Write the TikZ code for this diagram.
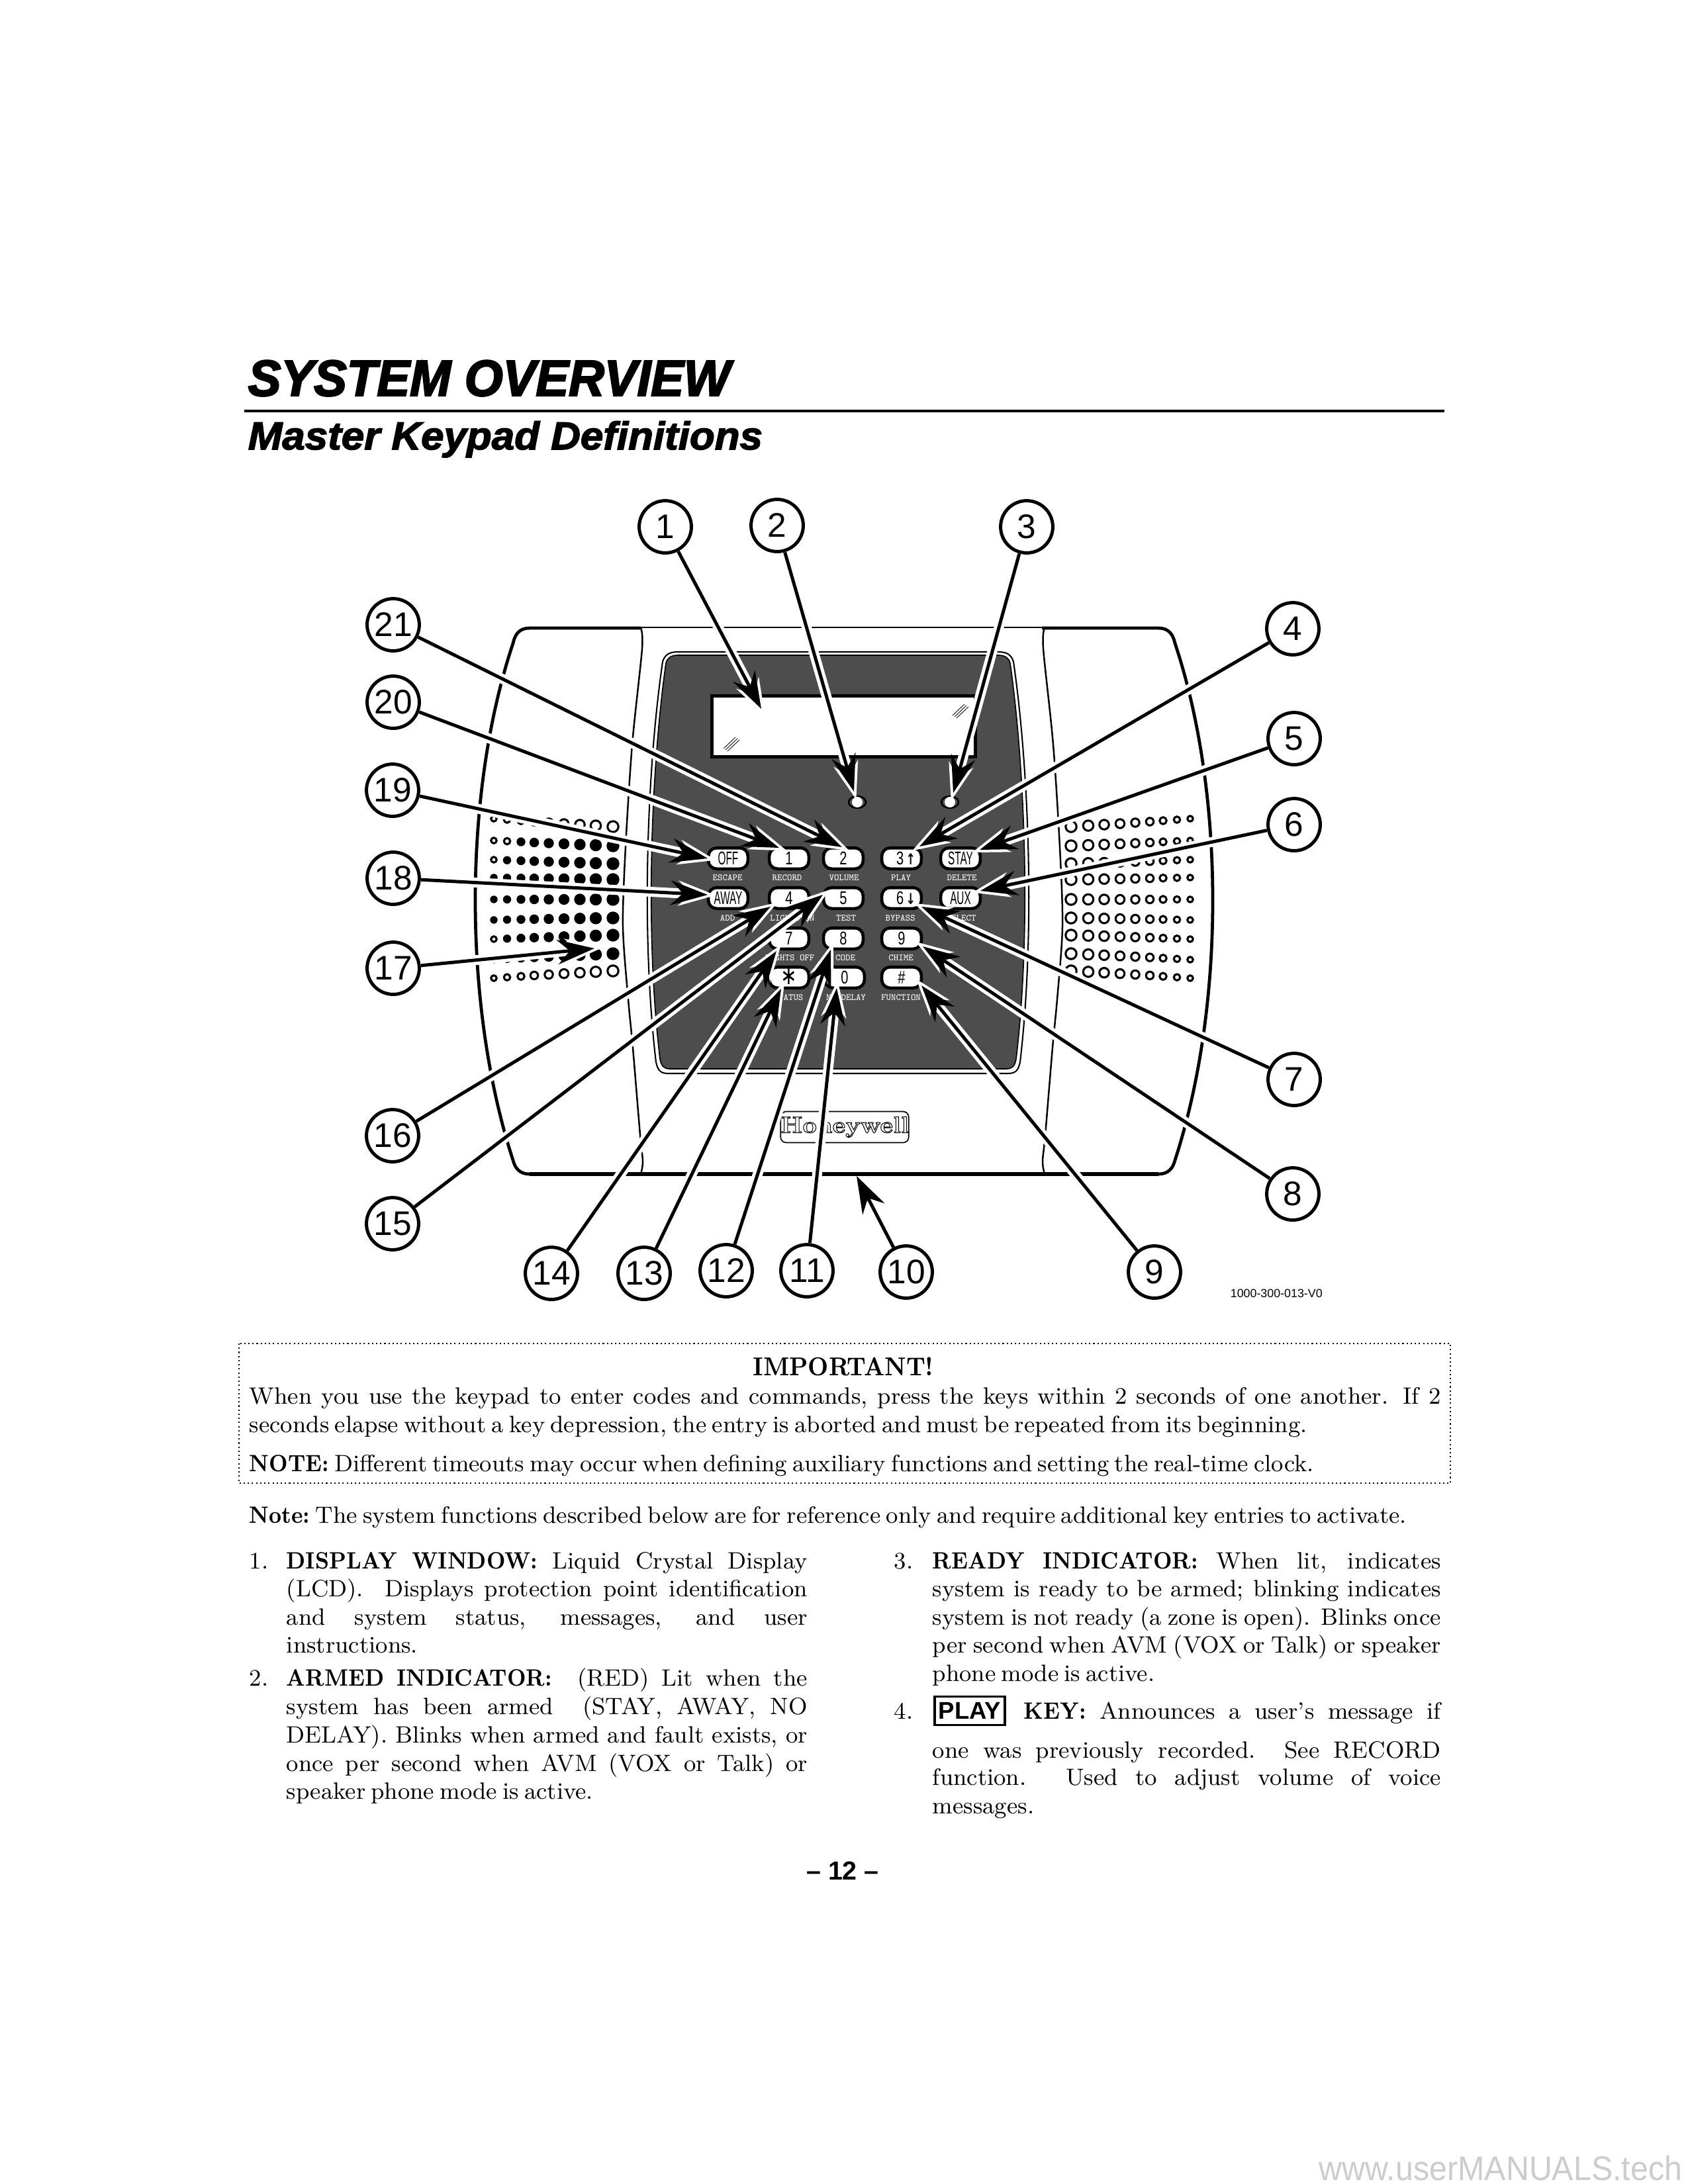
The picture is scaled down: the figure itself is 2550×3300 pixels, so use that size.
\documentclass[tikz,border=0pt]{standalone}
\usepackage{amsmath,amssymb}
\usepackage{graphicx}
\usepackage{fontspec}
\usepackage{tikz}
\usetikzlibrary{arrows.meta}
\newfontfamily\titlefont[BoldItalicFeatures={FakeBold=3,FakeStretch=0.97}]{Liberation Sans}
\newfontfamily\subtitlefont[BoldItalicFeatures={FakeBold=2.5,FakeStretch=1.05}]{Liberation Sans}
\newfontfamily\numfont{Liberation Sans}
\newfontfamily\footfont[FakeStretch=0.94]{Liberation Sans}
\newfontfamily\keyfont[FakeStretch=0.55]{Liberation Sans}
\newfontfamily\digitfont[FakeStretch=0.72]{Liberation Sans}
\newfontfamily\glyphfont[FakeStretch=0.75]{DejaVu Sans}
\newlength\pxu
\setlength\pxu{0.2409pt}
\definecolor{paneldark}{HTML}{4D4D4D}
\tikzset{
	callout/.style={circle,draw,line width=1.2pt,fill=white,minimum size=19pt,inner sep=0pt,font=\numfont\fontsize{12.4}{14}\selectfont},
	halo/.style={white,line width=3.6pt,shorten >=-3pt,-{Stealth[length=13.5pt,width=9pt,inset=4.5pt,line width=3.4pt]}},
	pointer/.style={black,line width=1.2pt,-{Stealth[length=13.5pt,width=9pt,inset=4.5pt]}},
	keybox/.style={draw,line width=1.1pt,fill=white,rounded corners=3pt,minimum width=14.4pt,minimum height=7.6pt,inner sep=0pt,font=\keyfont\fontsize{6.7}{8}\selectfont},
	keylabel/.style={text=white,inner sep=0pt,font=\ttfamily\fontsize{3.4}{4}\selectfont},
	bodytext/.style={anchor=base west,inner sep=0pt,font=\fontsize{8.6}{10.2}\selectfont},
	thinline/.style={line width=0.6pt},
	wingline/.style={line width=1.15pt},
}
\newcommand{\textrow}[5]{\node[bodytext] (#1) at (#2,#3) {\makebox[#4\pxu][s]{#5}};}
\newcommand{\keycap}[4]{\node[keybox] (key#1) at (#2,#3) {#4};}
\newcommand{\hd}[1]{\scalebox{0.9}[1]{\textbf{#1}}}
\begin{document}
\begin{tikzpicture}[x=0.2409pt,y=-0.2409pt]
	\useasboundingbox (0,0) rectangle (2550,3300);
	% headings
	\node[anchor=base west,inner sep=0pt,font=\titlefont\bfseries\itshape\fontsize{18.5}{20}\selectfont] (title) at (374,598) {SYSTEM OVERVIEW};
	\draw[line width=1.1pt] (369,621) -- (2182,621);
	\node[anchor=base west,inner sep=0pt,font=\subtitlefont\bfseries\itshape\fontsize{14.2}{15}\selectfont] (subtitle) at (374,679) {Master Keypad Definitions};
	% keypad body
	\draw[wingline] (968,949) -- (800,949) .. controls (785,949) and (778,958) .. (775,972)
		.. controls (699,1200) and (699,1520) .. (775,1753) .. controls (778,1765) and (785,1774) .. (800,1774);
	\draw[wingline] (1574,949) -- (1750,949) .. controls (1765,949) and (1772,958) .. (1775,972)
		.. controls (1851,1200) and (1851,1520) .. (1775,1753) .. controls (1772,1765) and (1765,1774) .. (1750,1774);
	\draw[line width=1.3pt] (800,1774) -- (1750,1774);
	\draw[thinline] (968,948) -- (1574,948);
	\draw[thinline] plot[smooth] coordinates {(968,949) (970,980) (955,1125) (945,1280) (941,1400) (949,1510) (956,1583) (967,1715) (971,1755) (968,1774)};
	\draw[thinline] plot[smooth] coordinates {(1578,949) (1576,980) (1591,1125) (1601,1280) (1605,1400) (1597,1510) (1590,1583) (1579,1715) (1575,1755) (1578,1774)};
	% panel
	\draw[line width=0.5pt,fill=white] (1024,985) -- (1508,985) .. controls (1522,985) and (1528,990) .. (1531,1000)
		.. controls (1553,1150) and (1565,1400) .. (1541,1605) .. controls (1538,1618) and (1534,1622) .. (1522,1622)
		-- (1010,1622) .. controls (998,1622) and (994,1618) .. (991,1605)
		.. controls (967,1400) and (979,1150) .. (1001,1000) .. controls (1004,990) and (1010,985) .. (1024,985) -- cycle;
	\draw[line width=0.4pt,fill=paneldark] (1024,990) -- (1508,990) .. controls (1518,990) and (1524,994) .. (1526,1002)
		.. controls (1547,1150) and (1559,1400) .. (1535,1600) .. controls (1533,1611) and (1529,1615) .. (1520,1615)
		-- (1012,1615) .. controls (1003,1615) and (999,1611) .. (997,1600)
		.. controls (973,1400) and (985,1150) .. (1006,1002) .. controls (1008,994) and (1014,990) .. (1024,990) -- cycle;
	% display and indicators
	\draw[line width=1.2pt,fill=white] (1075,1051) rectangle (1473,1143);
	\foreach \gx/\gy in {1093/1131,1096/1133,1099/1135,1439/1081,1442/1083,1445/1085} {
		\draw[line width=0.2pt] (\gx,\gy) -- ++(18,-17);
	}
	\foreach \lx in {1295,1435} {
		\draw[line width=0.6pt,fill=paneldark] (\lx,1212) ellipse (13 and 9);
		\fill[white] (\lx,1212) circle (8);
	}
	% speaker holes
	\foreach \r/\fo/\off/\m in {1/-122/-110/10,2/-89/-81/3,3/-60/-54/2,4/-33/-30/1,5/0/0/1,6/31/28/1,7/60/54/2,8/91/82/3,9/119/108/10} {
		\foreach \cc/\xx/\rad in {1/746/4.2,2/766/4.7,3/787/5.2,4/807/5.7,5/829/6.2,6/852/6.7,7/876/7.2,8/900/7.7,9/926/8.2} {
			\pgfmathsetmacro{\yy}{1359+\off+(\fo-\off)*(9-\cc)/8}
			\pgfmathsetmacro{\xr}{2544-\xx}
			\ifnum\cc<\m
				\draw[line width=0.75pt] (\xx,\yy) circle (\rad);
			\else
				\fill (\xx,\yy) circle (\rad+1.5);
			\fi
			\draw[line width=0.75pt] (\xr,\yy) circle (\rad);
		}
	}
	% keys
	\keycap{off}{1100}{1297}{OFF}
	\keycap{one}{1192}{1297}{\digitfont 1}
	\keycap{two}{1274}{1297}{\digitfont 2}
	\keycap{three}{1362}{1297}{\kern13\pxu\digitfont 3\kern0.8pt{\glyphfont\bfseries\fontsize{5.5}{6}\selectfont ↑}}
	\keycap{stay}{1451}{1297}{STAY}
	\keycap{away}{1100}{1357}{AWAY}
	\keycap{four}{1192}{1357}{\digitfont 4}
	\keycap{five}{1274}{1357}{\digitfont 5}
	\keycap{six}{1362}{1357}{\kern13\pxu\digitfont 6\kern0.8pt{\glyphfont\bfseries\fontsize{5.5}{6}\selectfont ↓}}
	\keycap{aux}{1451}{1357}{AUX}
	\keycap{seven}{1192}{1418}{\digitfont 7}
	\keycap{eight}{1274}{1418}{\digitfont 8}
	\keycap{nine}{1362}{1418}{\digitfont 9}
	\keycap{star}{1192}{1477}{\raisebox{0pt}[5pt][0pt]{\glyphfont\fontsize{9.5}{9.5}\selectfont ∗}}
	\keycap{zero}{1276}{1477}{\digitfont 0}
	\keycap{hash}{1362}{1477}{\digitfont\#}
	\foreach \xx/\yy/\lbl [count=\n] in {1099/1326/ESCAPE,1189/1326/RECORD,1275/1326/VOLUME,1361/1326/PLAY,1453/1326/DELETE,
		1099/1387/ADD,1197/1387/LIGHTS ON,1278/1387/TEST,1360/1387/BYPASS,1452/1387/SELECT,
		1193/1447/LIGHTS OFF,1277/1447/CODE,1361/1447/CHIME,
		1191/1507/STATUS,1278/1507/NO DELAY,1361/1507/FUNCTION} {
		\node[keylabel] (lbl\n) at (\xx,\yy) {\lbl};
	}
	% logo
	\node[draw,line width=0.4pt,rounded corners=2pt,minimum width=45pt,minimum height=11.3pt,inner sep=0pt,
		font=\bfseries\fontsize{8.4}{10}\selectfont] (logo) at (1276,1703)
		{\special{pdf:code 1 Tr 0.25 w}Honeywell\special{pdf:code 0 Tr}};
	% callouts
	\foreach \i/\xx/\yy in {1/1005/796,2/1174/794,3/1551/796,4/1953/950,5/1955/1116,6/1955/1246,7/1955/1631,
		8/1953/1804,9/1744/1922,10/1369/1922,11/1219/1920,12/1097/1920,13/973/1924,14/833/1924,
		15/593/1849,16/593/1716,17/594/1463,18/594/1327,19/593/1194,20/594/1061,21/594/944} {
		\node[callout] (c\i) at (\xx,\yy) {\i};
	}
	% arrow tips
	\foreach \i/\xx/\yy in {1/1150/1071,2/1290/1196,3/1440/1198,4/1389/1279,5/1480/1284,6/1481/1346,7/1392/1370,
		8/1394/1430,9/1392/1489,10/1294/1777,11/1264/1493,12/1255/1435,13/1180/1494,14/1173/1437,
		15/1243/1352,16/1164/1370,17/898/1433,18/1069/1352,19/1069/1297,20/1177/1281,21/1272/1280} {
		\coordinate (t\i) at (\xx,\yy);
	}
	\foreach \i in {1,2,3,4,5,6,7,8,9,11,12,13,14,15,16,17,18,19,20,21} {
		\draw[halo] (c\i) -- (t\i);
	}
	\foreach \i in {1,...,21} {
		\draw[pointer] (c\i) -- (t\i);
	}
	\node[anchor=base west,inner sep=0pt,font=\numfont\fontsize{4.3}{5}\selectfont] (partno) at (1858,1960) {1000-300-013-V0};
	% important box
	\draw[densely dotted,line width=0.5pt] (361,2030) rectangle (2191,2241);
	\node[anchor=base,inner sep=0pt,font=\fontsize{9.4}{11}\selectfont] (important) at (1274,2078) {\hd{IMPORTANT!}};
	\textrow{boxa}{376}{2121}{1800}{When you use the keypad to enter codes and commands, press the keys within 2 seconds of one another. If 2}
	\textrow{boxb}{376}{2164}{1598}{seconds elapse without a key depression, the entry is aborted and must be repeated from its beginning.}
	\textrow{boxc}{376}{2223}{1603}{\hd{NOTE:} Different timeouts may occur when defining auxiliary functions and setting the real-time clock.}
	\textrow{notea}{376}{2301}{1748}{\hd{Note:} The system functions described below are for reference only and require additional key entries to activate.}
	% left column
	\node[bodytext] (numa) at (376,2370) {1.};
	\textrow{cola}{432}{2370}{787}{\hd{DISPLAY} \hd{WINDOW:} Liquid Crystal Display}
	\textrow{colb}{432}{2412}{787}{(LCD).\ \ Displays protection point identification}
	\textrow{colc}{432}{2455}{787}{and system status, messages, and user}
	\textrow{cold}{432}{2497}{194}{instructions.}
	\node[bodytext] (numb) at (376,2547) {2.};
	\textrow{cole}{432}{2547}{787}{\hd{ARMED} \hd{INDICATOR:}\ \ (RED) Lit when the}
	\textrow{colf}{432}{2590}{787}{system has been armed\ \ (STAY, AWAY, NO}
	\textrow{colg}{432}{2633}{787}{DELAY). Blinks when armed and fault exists, or}
	\textrow{colh}{432}{2676}{787}{once per second when AVM (VOX or Talk) or}
	\textrow{coli}{432}{2718}{462}{speaker phone mode is active.}
	% right column
	\node[bodytext] (numc) at (1350,2370) {3.};
	\textrow{colj}{1408}{2370}{768}{\hd{READY} \hd{INDICATOR:} When lit, indicates}
	\textrow{colk}{1408}{2412}{768}{system is ready to be armed; blinking indicates}
	\textrow{coll}{1408}{2455}{768}{system is not ready (a zone is open). Blinks once}
	\textrow{colm}{1408}{2497}{768}{per second when AVM (VOX or Talk) or speaker}
	\textrow{coln}{1408}{2540}{332}{phone mode is active.}
	\node[bodytext] (numd) at (1350,2597) {4.};
	\node[draw,line width=0.9pt,minimum width=25.5pt,minimum height=10.4pt,inner sep=0pt,font=\numfont\bfseries\fontsize{8.8}{10}\selectfont] (playkey) at (1465,2585) {PLAY};
	\textrow{colo}{1546}{2597}{630}{\hd{KEY:} Announces a user's message if}
	\textrow{colp}{1408}{2656}{768}{one was previously recorded. See RECORD}
	\textrow{colq}{1408}{2697}{768}{function. Used to adjust volume of voice}
	\textrow{colr}{1408}{2740}{154}{messages.}
	% page number and footer
	\node[anchor=base,inner sep=0pt,font=\numfont\bfseries\fontsize{9.5}{11}\selectfont] (pageno) at (1273,2840) {– 12 –};
	\node[anchor=base west,inner sep=0pt,text=black!20,font=\footfont\fontsize{12.4}{14}\selectfont] (footer) at (1992,3294) {www.userMANUALS.tech};
\end{tikzpicture}
\end{document}
